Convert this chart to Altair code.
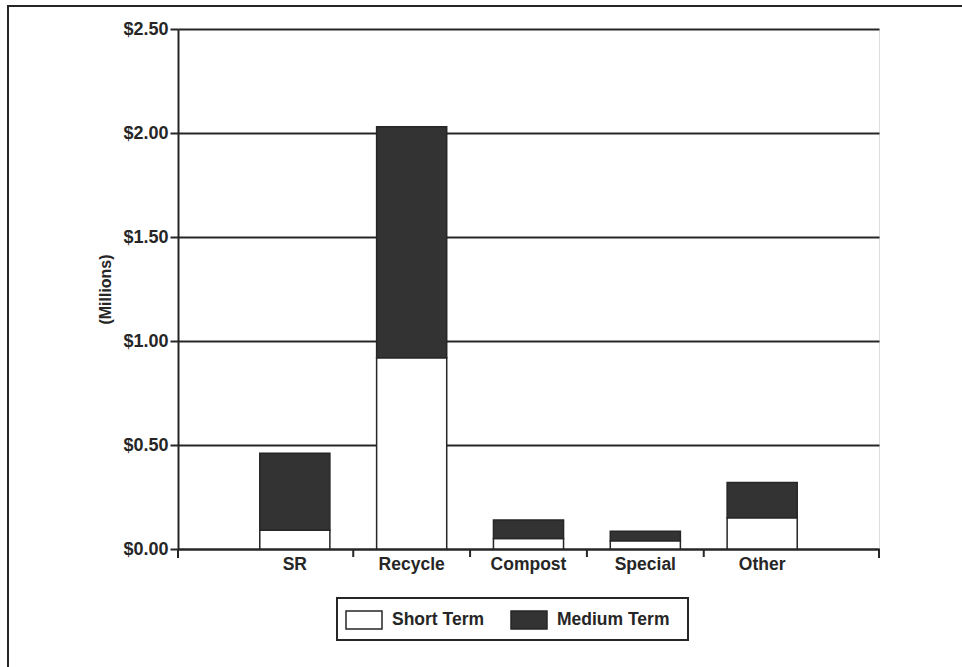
import altair as alt
import pandas as pd

# Cost by program area, in millions of dollars
categories = ["SR", "Recycle", "Compost", "Special", "Other"]
short_term = [0.09, 0.92, 0.05, 0.04, 0.15]
medium_term = [0.37, 1.11, 0.09, 0.045, 0.17]
series = ["Short Term", "Medium Term"]
y_ticks = [0.0, 0.5, 1.0, 1.5, 2.0, 2.5]

rows = []
for cat, s, m in zip(categories, short_term, medium_term):
    rows.append({"category": cat, "term": series[0], "rank": 0, "cost": s})
    rows.append({"category": cat, "term": series[1], "rank": 1, "cost": m})
df = pd.DataFrame(rows)

W, H = 701, 520
PAD_INNER, PAD_OUTER = 0.4, 0.7
step = W / (len(categories) - PAD_INNER + 2 * PAD_OUTER)
INK = "#262626"
FONT = "Liberation Sans"

x_scale = alt.Scale(domain=categories, paddingInner=PAD_INNER, paddingOuter=PAD_OUTER)

bars = (
    alt.Chart(df)
    .mark_bar(stroke=INK, strokeWidth=1.5)
    .encode(
        x=alt.X(
            "category:N",
            scale=x_scale,
            sort=categories,
            title=None,
            axis=alt.Axis(
                ticks=False,
                labelAngle=0,
                labelPadding=6,
                labelFontSize=17.5,
                labelFontWeight="bold",
                labelColor=INK,
                domainColor=INK,
                domainWidth=2,
                grid=False,
            ),
        ),
        y=alt.Y(
            "cost:Q",
            stack="zero",
            scale=alt.Scale(domain=[0, 2.5], nice=False),
            axis=alt.Axis(
                values=y_ticks,
                format="$.2f",
                title="(Millions)",
                titleFontSize=16,
                titleFontWeight="bold",
                titleColor=INK,
                titleAngle=270,
                titleX=-73,
                titleY=H / 2,
                titleAlign="center",
                titleBaseline="middle",
                labelFontSize=18,
                labelFontWeight="bold",
                labelColor=INK,
                labelPadding=2,
                tickSize=8,
                tickColor=INK,
                tickWidth=2,
                domainColor=INK,
                domainWidth=2,
                grid=True,
                gridColor=INK,
                gridWidth=2,
                gridOpacity=1,
            ),
        ),
        color=alt.Color(
            "term:N",
            scale=alt.Scale(domain=series, range=["#ffffff", "#333333"]),
            legend=alt.Legend(
                title=None,
                orient="none",
                legendX=167,
                legendY=572,
                direction="horizontal",
                symbolType="M-1,-0.5h2v1h-2z",
                symbolSize=1296,
                symbolStrokeColor=INK,
                symbolStrokeWidth=1.5,
                symbolOpacity=1,
                labelFontSize=17.5,
                labelFontWeight="bold",
                labelColor=INK,
                labelOffset=9,
                columnPadding=23,
                padding=0,
            ),
        ),
        order=alt.Order("rank:Q", sort="ascending"),
    )
)

# Tick marks between the category slots on the category axis
inner_ticks = (
    alt.Chart(pd.DataFrame({"category": categories[1:]}))
    .mark_rule(color=INK, strokeWidth=2, xOffset=-PAD_INNER * step / 2)
    .encode(
        x=alt.X("category:N", scale=x_scale, sort=categories, bandPosition=0),
        y=alt.value(H),
        y2=alt.value(H + 8),
    )
)

one = pd.DataFrame({"k": [0]})
left_tick = alt.Chart(one).mark_rule(color=INK, strokeWidth=2).encode(
    x=alt.value(0), y=alt.value(H), y2=alt.value(H + 9)
)
right_tick = alt.Chart(one).mark_rule(color=INK, strokeWidth=2).encode(
    x=alt.value(W), y=alt.value(H), y2=alt.value(H + 9)
)

# Box around the legend
legend_box = alt.Chart(one).mark_rect(filled=False, stroke=INK, strokeWidth=2).encode(
    x=alt.value(159), x2=alt.value(510), y=alt.value(569), y2=alt.value(611)
)

# Page frame around the figure
frame = alt.Chart(one).mark_rect(filled=False, stroke=INK, strokeWidth=2).encode(
    x=alt.value(-170), x2=alt.value(W + 300), y=alt.value(-23), y2=alt.value(H + 300)
)

chart = (
    alt.layer(frame, legend_box, bars, inner_ticks, left_tick, right_tick)
    .properties(
        width=W,
        height=H,
        autosize=alt.AutoSizeParams(type="none"),
        padding={"left": 178, "top": 29, "right": 83, "bottom": 118},
        background="#ffffff",
    )
    .configure_view(stroke=INK, strokeWidth=2)
    .configure(font=FONT)
)

chart.save("out.html", embed_options={"renderer": "svg", "actions": False})
